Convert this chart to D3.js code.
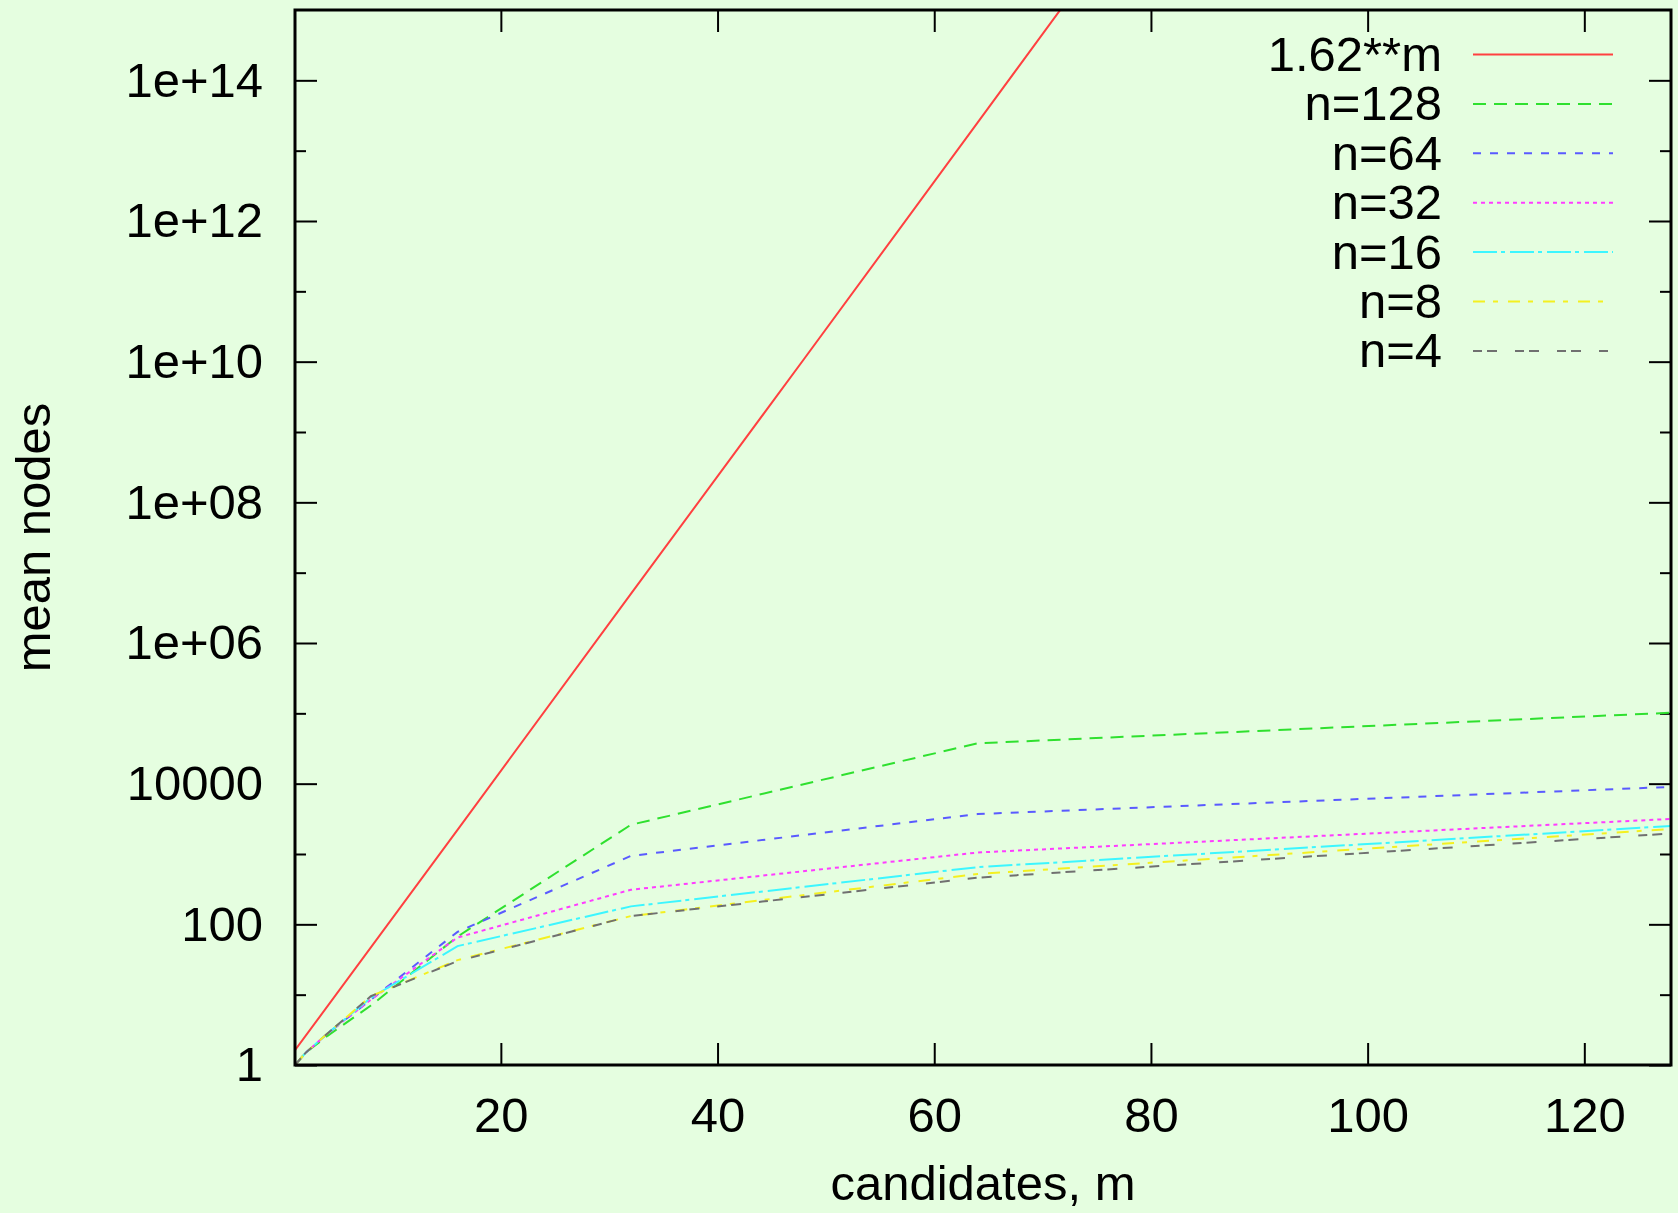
<!DOCTYPE html>
<html>
<head>
<meta charset="utf-8">
<script src="https://cdn.jsdelivr.net/npm/d3@7"></script>
<style>
	body { margin:0; background:#e5fee0; }
	svg { display:block; }
	text { font-family:'Liberation Sans', Arial, sans-serif; fill:#000; }
</style>
</head>
<body>
<svg class="chart"></svg>
<script>

// candidates m, sampled at powers of two
var candidates = [1, 2, 4, 8, 16, 32, 64, 128];

var n128 = [1, 1.5, 2.6, 7, 67, 2600, 37500, 102000];
var n64 = [1, 1.5, 2.8, 8.5, 78, 940, 3700, 9000];
var n32 = [1, 1.5, 2.8, 8.5, 65, 310, 1050, 3150];
var n16 = [1, 1.5, 2.8, 9, 49, 180, 650, 2500];
var n8 = [1, 1.5, 2.8, 9.5, 31, 131, 520, 2270];
var n4 = [1, 1.5, 2.8, 9.5, 30, 131, 460, 1960];

// reference curve 1.62**m, read where it crosses the plot
var boundM = [1, 16, 32, 48, 64, 72];
var boundValues = [1.62, 2200, 5.0e6, 1.1e10, 2.5e13, 1.2e15];

var seriesNames = ['1.62**m', 'n=128', 'n=64', 'n=32', 'n=16', 'n=8', 'n=4'];

var xTicks = [20, 40, 60, 80, 100, 120];
var yTicks = [1, 1e2, 1e4, 1e6, 1e8, 1e10, 1e12, 1e14];
var yTickLabels = ['1', '100', '10000', '1e+06', '1e+08', '1e+10', '1e+12', '1e+14'];
var yMinorTicks = [1e1, 1e3, 1e5, 1e7, 1e9, 1e11, 1e13];


var config = {
	width: 1678,
	height: 1213,
	left: 295,
	right: 1671,
	top: 10,
	bottom: 1065,
	fontSize: 49,
	tick: 22,
	minorTick: 11
};

var styles = [
	{color:'#ff4040', dash:null},
	{color:'#2fe02f', dash:'13,8'},
	{color:'#5a5aff', dash:'8,9'},
	{color:'#ff3cff', dash:'4,4'},
	{color:'#3cf6ff', dash:'24,4,4,5'},
	{color:'#f4f020', dash:'12,8,5,10'},
	{color:'#707070', dash:'9,5,10,18'}
];

var seriesData = [
	d3.zip(boundM, boundValues),
	d3.zip(candidates, n128),
	d3.zip(candidates, n64),
	d3.zip(candidates, n32),
	d3.zip(candidates, n16),
	d3.zip(candidates, n8),
	d3.zip(candidates, n4)
];

var xScale = d3.scaleLinear()
				.domain([1, 128])
				.range([config.left, config.right]);

var yScale = d3.scaleLog()
				.domain([1, 1e15])
				.range([config.bottom, config.top]);

var svg = d3.select('.chart')
			.attr('width', config.width)
			.attr('height', config.height);

svg.append('rect')
	.attr('width', config.width)
	.attr('height', config.height)
	.attr('fill', '#e5fee0');

svg.append('clipPath')
	.attr('id', 'plot-clip')
	.append('rect')
	.attr('x', config.left)
	.attr('y', config.top)
	.attr('width', config.right - config.left)
	.attr('height', config.bottom - config.top);

//axes
function styleAxis (g) {
	g.select('.domain').remove();
	g.attr('font-size', config.fontSize)
		.attr('font-family', null);
	g.selectAll('.tick line')
		.attr('stroke', '#000')
		.attr('stroke-width', 2);
}

svg.append('g')
	.attr('transform', 'translate(0,' + config.bottom + ')')
	.call(d3.axisBottom(xScale).tickValues(xTicks).tickSizeInner(-config.tick).tickSizeOuter(0).tickPadding(32))
	.call(styleAxis);

svg.append('g')
	.attr('transform', 'translate(0,' + config.top + ')')
	.call(d3.axisTop(xScale).tickValues(xTicks).tickSizeInner(-config.tick).tickSizeOuter(0).tickFormat(''))
	.call(styleAxis);

svg.append('g')
	.attr('transform', 'translate(' + config.left + ',0)')
	.call(d3.axisLeft(yScale).tickValues(yTicks).tickFormat((d, i) => yTickLabels[i]).tickSizeInner(-config.tick).tickSizeOuter(0).tickPadding(32))
	.call(styleAxis);

svg.append('g')
	.attr('transform', 'translate(' + config.left + ',0)')
	.call(d3.axisLeft(yScale).tickValues(yMinorTicks).tickFormat('').tickSizeInner(-config.minorTick).tickSizeOuter(0))
	.call(styleAxis);

svg.append('g')
	.attr('transform', 'translate(' + config.right + ',0)')
	.call(d3.axisRight(yScale).tickValues(yTicks).tickFormat('').tickSizeInner(-config.tick).tickSizeOuter(0))
	.call(styleAxis);

svg.append('g')
	.attr('transform', 'translate(' + config.right + ',0)')
	.call(d3.axisRight(yScale).tickValues(yMinorTicks).tickFormat('').tickSizeInner(-config.minorTick).tickSizeOuter(0))
	.call(styleAxis);

//lines
var lineGen = d3.line()
				.x(d => xScale(d[0]))
				.y(d => yScale(d[1]));

svg.append('g')
	.attr('clip-path', 'url(#plot-clip)')
	.selectAll('path')
	.data(seriesData)
	.enter()
	.append('path')
	.attr('d', lineGen)
	.attr('fill', 'none')
	.attr('stroke', (d, i) => styles[i].color)
	.attr('stroke-width', 2)
	.attr('stroke-dasharray', (d, i) => styles[i].dash);

//frame
svg.append('rect')
	.attr('x', config.left)
	.attr('y', config.top)
	.attr('width', config.right - config.left)
	.attr('height', config.bottom - config.top)
	.attr('fill', 'none')
	.attr('stroke', '#000')
	.attr('stroke-width', 3);

//legend
var legend = svg.append('g')
				.selectAll('g')
				.data(seriesNames)
				.enter()
				.append('g')
				.attr('transform', (d, i) => 'translate(0,' + (71 + i * 49.4) + ')');

legend.append('text')
	.text(d => d)
	.attr('x', 1442)
	.attr('text-anchor', 'end')
	.attr('font-size', config.fontSize);

legend.append('line')
	.attr('x1', 1473)
	.attr('x2', 1613)
	.attr('y1', -16.5)
	.attr('y2', -16.5)
	.attr('stroke', (d, i) => styles[i].color)
	.attr('stroke-width', 2)
	.attr('stroke-dasharray', (d, i) => styles[i].dash);

//axis titles
svg.append('text')
	.text('candidates, m')
	.attr('x', (config.left + config.right) / 2)
	.attr('y', 1200)
	.attr('text-anchor', 'middle')
	.attr('font-size', config.fontSize);

svg.append('text')
	.text('mean nodes')
	.attr('transform', 'translate(50,' + (config.top + config.bottom) / 2 + ') rotate(-90)')
	.attr('text-anchor', 'middle')
	.attr('font-size', config.fontSize);

</script>
</body>
</html>
